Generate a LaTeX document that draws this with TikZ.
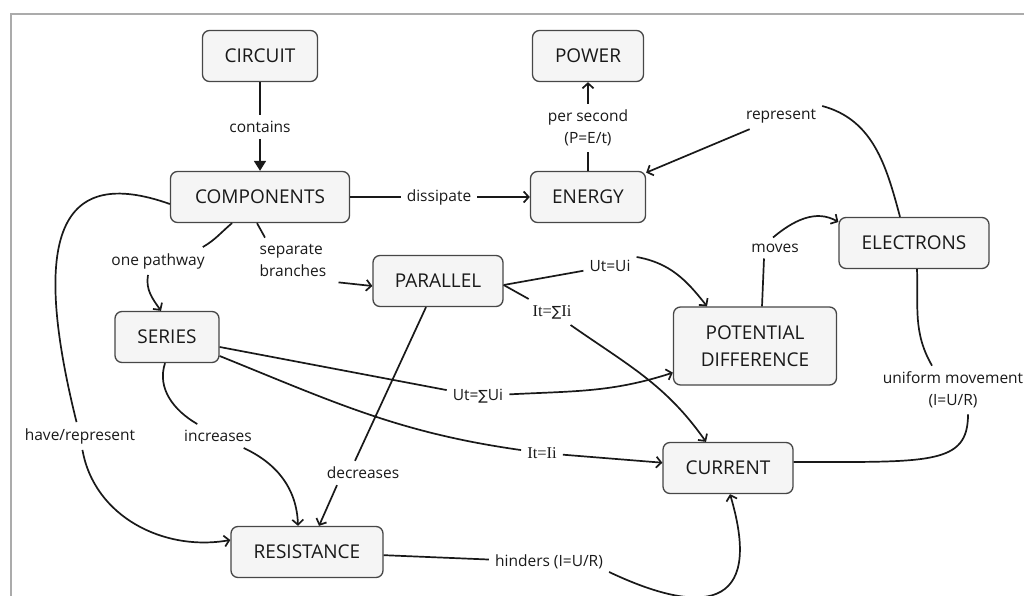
\documentclass[tikz,border=0pt]{standalone}
\usepackage{fontspec}
\setsansfont{Open Sans}
\newfontfamily\formulafont{Liberation Serif}
\newfontfamily\sumfont{DejaVu Sans}
\usepackage{tikz}
\usetikzlibrary{arrows.meta,positioning}

\begin{document}
\begin{tikzpicture}[x=1pt,y=-1pt]
	\tikzstyle{Concept}	= [rectangle, rounded corners=7pt, draw=black!72, fill=black!4, line width=1.3pt, minimum height=51, inner sep=2pt, text=black!90, font=\sffamily\fontsize{19}{27}\selectfont, align=center]
	\tikzstyle{Link}	= [inner sep=6pt, text=black!90, font=\sffamily\fontsize{15.5}{22}\selectfont, align=center]
	\tikzstyle{Formula}	= [Link, font=\formulafont\fontsize{16.5}{22}\selectfont]
	\tikzstyle{Line}	= [line width=1.7pt, black!90]
	\tikzstyle{Tip}		= [-{Straight Barb[length=5pt,width=11pt]}]
	\tikzstyle{Frame}	= [line width=1.8pt, black!33]

	\useasboundingbox (0,0) rectangle (1024,596);
	\draw (1024,14) -- (11,14) -- (11,596) [Frame];

	\node (circuit) at (260,56) [Concept, minimum width=115] {CIRCUIT};
	\node (power) at (588,56) [Concept, minimum width=111] {POWER};
	\node (components) at (260,197) [Concept, minimum width=179] {COMPONENTS};
	\node (energy) at (588,197) [Concept, minimum width=115] {ENERGY};
	\node (electrons) at (914,243) [Concept, minimum width=150] {ELECTRONS};
	\node (parallel) at (438,281) [Concept, minimum width=130] {PARALLEL};
	\node (series) at (167,337) [Concept, minimum width=104] {SERIES};
	\node (pd) at (755,346) [Concept, minimum width=163, minimum height=78] {POTENTIAL\\DIFFERENCE};
	\node (current) at (728,468) [Concept, minimum width=130] {CURRENT};
	\node (resistance) at (307,552) [Concept, minimum width=152] {RESISTANCE};

	\node (lContains) at (260,127) [Link] {contains};
	\node (lDissipate) at (439,197) [Link] {dissipate};
	\node (lPerSecond) at (588,128) [Link] {per second\\(P=E/t)};
	\node (lRepresent) at (781,116) [Link] {represent};
	\node (lPathway) at (158,261) [Link] {one pathway};
	\node (lBranches) at (293,260) [Link, align=left] {separate\\branches};
	\node (lUtUi) at (610,266) [Link] {Ut=Ui};
	\node (lItSum) at (552,312) [Formula] {It={\sumfont\fontsize{14}{22}\selectfont ∑}Ii};
	\node (lMoves) at (775,248) [Link] {moves};
	\node (lUtSum) at (478,396) [Link] {Ut={\sumfont\fontsize{14}{22}\selectfont ∑}Ui};
	\node (lUniform) at (953,390) [Link] {uniform movement\\(I=U/R)};
	\node (lHave) at (80,436) [Link] {have/represent};
	\node (lIncreases) at (218,436) [Link] {increases};
	\node (lItIi) at (542,453) [Formula] {It=Ii};
	\node (lDecreases) at (363,473) [Link] {decreases};
	\node (lHinders) at (549,562) [Link] {hinders (I=U/R)};

	\draw (circuit) -- (lContains) [Line];
	\draw [-{Triangle[length=10pt,width=12pt]}] (lContains) -- (components) [Line];
	\draw (components) -- (lDissipate) [Line];
	\draw [Tip] (lDissipate) -- (energy) [Line];
	\draw (energy) -- (lPerSecond) [Line];
	\draw [Tip] (lPerSecond) -- (power) [Line];
	\draw ([xshift=-14pt]electrons.north) to [out=105, in=-15] ([yshift=10pt]lRepresent.east) [Line];
	\draw [Tip] (lRepresent) -- (energy) [Line];
	\draw ([xshift=-28pt]components.south) to [out=-140, in=30] ([xshift=-8pt]lPathway.north east) [Line];
	\draw [Tip] ([xshift=-10pt]lPathway.south) to [out=-100, in=125] ([xshift=-6pt]series.north) [Line];
	\draw ([xshift=-3pt]components.south) -- ([xshift=-28pt]lBranches.north) [Line];
	\draw [Tip] ([xshift=6pt]lBranches.south east) -- ([yshift=-5pt]parallel.west) [Line];
	\draw ([yshift=-7pt]components.west) .. controls (60,165) and (30,235) .. (lHave) [Line];
	\draw [Tip] (lHave) to [out=-80, in=190] ([yshift=12pt]resistance.west) [Line];
	\draw ([xshift=-2pt]series.south) to [out=-108, in=150] (lIncreases) [Line];
	\draw [Tip] (lIncreases) to [out=-25, in=92] ([xshift=-9pt]resistance.north) [Line];
	\draw ([xshift=-12pt]parallel.south) -- ([xshift=-8pt]lDecreases.north) [Line];
	\draw [Tip] ([xshift=-26pt]lDecreases.south) -- ([xshift=12pt]resistance.north) [Line];
	\draw (series) -- (lUtSum) [Line];
	\draw [Tip] (lUtSum) to [out=3, in=198] (pd) [Line];
	\draw ([yshift=-19pt]series.east) to [out=-22, in=172] (lItIi) [Line];
	\draw [Tip] (lItIi) -- (current) [Line];
	\draw ([yshift=-4pt]parallel.east) -- (lUtUi) [Line];
	\draw [Tip] ([yshift=9pt]lUtUi.east) to [out=-10, in=128] ([xshift=-48pt]pd.north) [Line];
	\draw ([yshift=-4pt]parallel.east) -- (lItSum) [Line];
	\draw [Tip] (lItSum) to [out=-35, in=125] ([xshift=-22pt]current.north) [Line];
	\draw ([xshift=7pt]pd.north) -- ([xshift=-11pt]lMoves.south) [Line];
	\draw [Tip] ([xshift=-2pt]lMoves.north) to [out=40, in=150] ([yshift=21pt]electrons.west) [Line];
	\draw ([xshift=3pt]electrons.south) to [out=-88, in=120] ([xshift=-21pt]lUniform.north) [Line];
	\draw ([xshift=15pt]lUniform.south) .. controls (968,465) and (930,462) .. ([yshift=6pt]current.east) [Line];
	\draw (resistance) -- (lHinders) [Line];
	\draw [Tip] ([yshift=-10pt]lHinders.east) .. controls (700,615) and (765,612) .. ([xshift=2pt]current.south) [Line];
\end{tikzpicture}
\end{document}
